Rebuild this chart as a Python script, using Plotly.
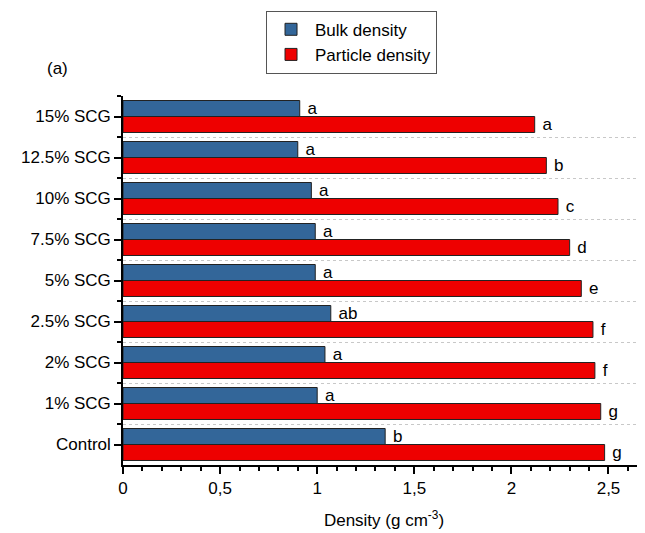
import plotly.graph_objects as go

categories = ["Control", "1% SCG", "2% SCG", "2.5% SCG", "5% SCG", "7.5% SCG", "10% SCG", "12.5% SCG", "15% SCG"]
bulk_density = [1.35, 1.00, 1.04, 1.07, 0.99, 0.99, 0.97, 0.90, 0.91]
particle_density = [2.48, 2.46, 2.43, 2.42, 2.36, 2.30, 2.24, 2.18, 2.12]
bulk_letters = ["b", "a", "a", "ab", "a", "a", "a", "a", "a"]
particle_letters = ["g", "g", "f", "f", "e", "d", "c", "b", "a"]

ypos = list(range(len(categories)))
font = "Liberation Sans, Arial, sans-serif"
FS = 17

fig = go.Figure()
fig.add_trace(go.Bar(
    y=ypos, x=particle_density, orientation="h", name="Particle density",
    marker=dict(color="#EE0000", line=dict(color="#222222", width=1)),
    text=[" " + t for t in particle_letters], textposition="outside", constraintext="none",
    textfont=dict(family=font, size=FS, color="black"), cliponaxis=False,
))
fig.add_trace(go.Bar(
    y=ypos, x=bulk_density, orientation="h", name="Bulk density",
    marker=dict(color="#336699", line=dict(color="#222222", width=1)),
    text=[" " + t for t in bulk_letters], textposition="outside", constraintext="none",
    textfont=dict(family=font, size=FS, color="black"), cliponaxis=False,
))

fig.update_layout(
    width=637, height=525,
    margin=dict(l=115, r=0, t=87.5, b=68, autoexpand=False),
    paper_bgcolor="white", plot_bgcolor="white",
    barmode="group", bargap=0.22, bargroupgap=0,
    separators=", ",
    font=dict(family=font, size=FS, color="black"),
    showlegend=True,
    legend=dict(
        traceorder="reversed", x=0.274, y=1.231, xanchor="left", yanchor="top",
        bordercolor="#555555", borderwidth=1, bgcolor="white",
        font=dict(size=FS), itemwidth=38, tracegroupgap=0,
    ),
    xaxis=dict(
        range=[0, 2.688], dtick=0.5, tick0=0, showgrid=False, zeroline=False,
        showline=True, linecolor="black", linewidth=1.5,
        ticks="outside", ticklen=7, tickcolor="black", tickwidth=1.5,
        minor=dict(dtick=0.1, ticks="outside", ticklen=4, tickcolor="black", showgrid=False),
        title=dict(text="Density (g cm<sup>-3</sup>)", font=dict(size=FS), standoff=17),
        tickfont=dict(size=FS),
    ),
    yaxis=dict(
        range=[-0.5, 8.5], tickvals=ypos, ticktext=categories, showgrid=False, zeroline=False,
        showline=True, linecolor="black", linewidth=1.5,
        ticks="outside", ticklen=7, tickcolor="black", tickwidth=1.5,
        minor=dict(tickvals=[i + 0.5 for i in ypos[:-1]] + [8.5], ticks="outside", ticklen=4,
                   tickcolor="black", showgrid=True, gridcolor="#c8c8c8", griddash="dot", gridwidth=1),
        tickfont=dict(size=FS),
    ),
    annotations=[dict(text="(a)", xref="paper", yref="paper", x=-0.149, y=1.075,
                      xanchor="left", yanchor="middle", showarrow=False, font=dict(size=FS))],
)

fig.write_html("out.html")
